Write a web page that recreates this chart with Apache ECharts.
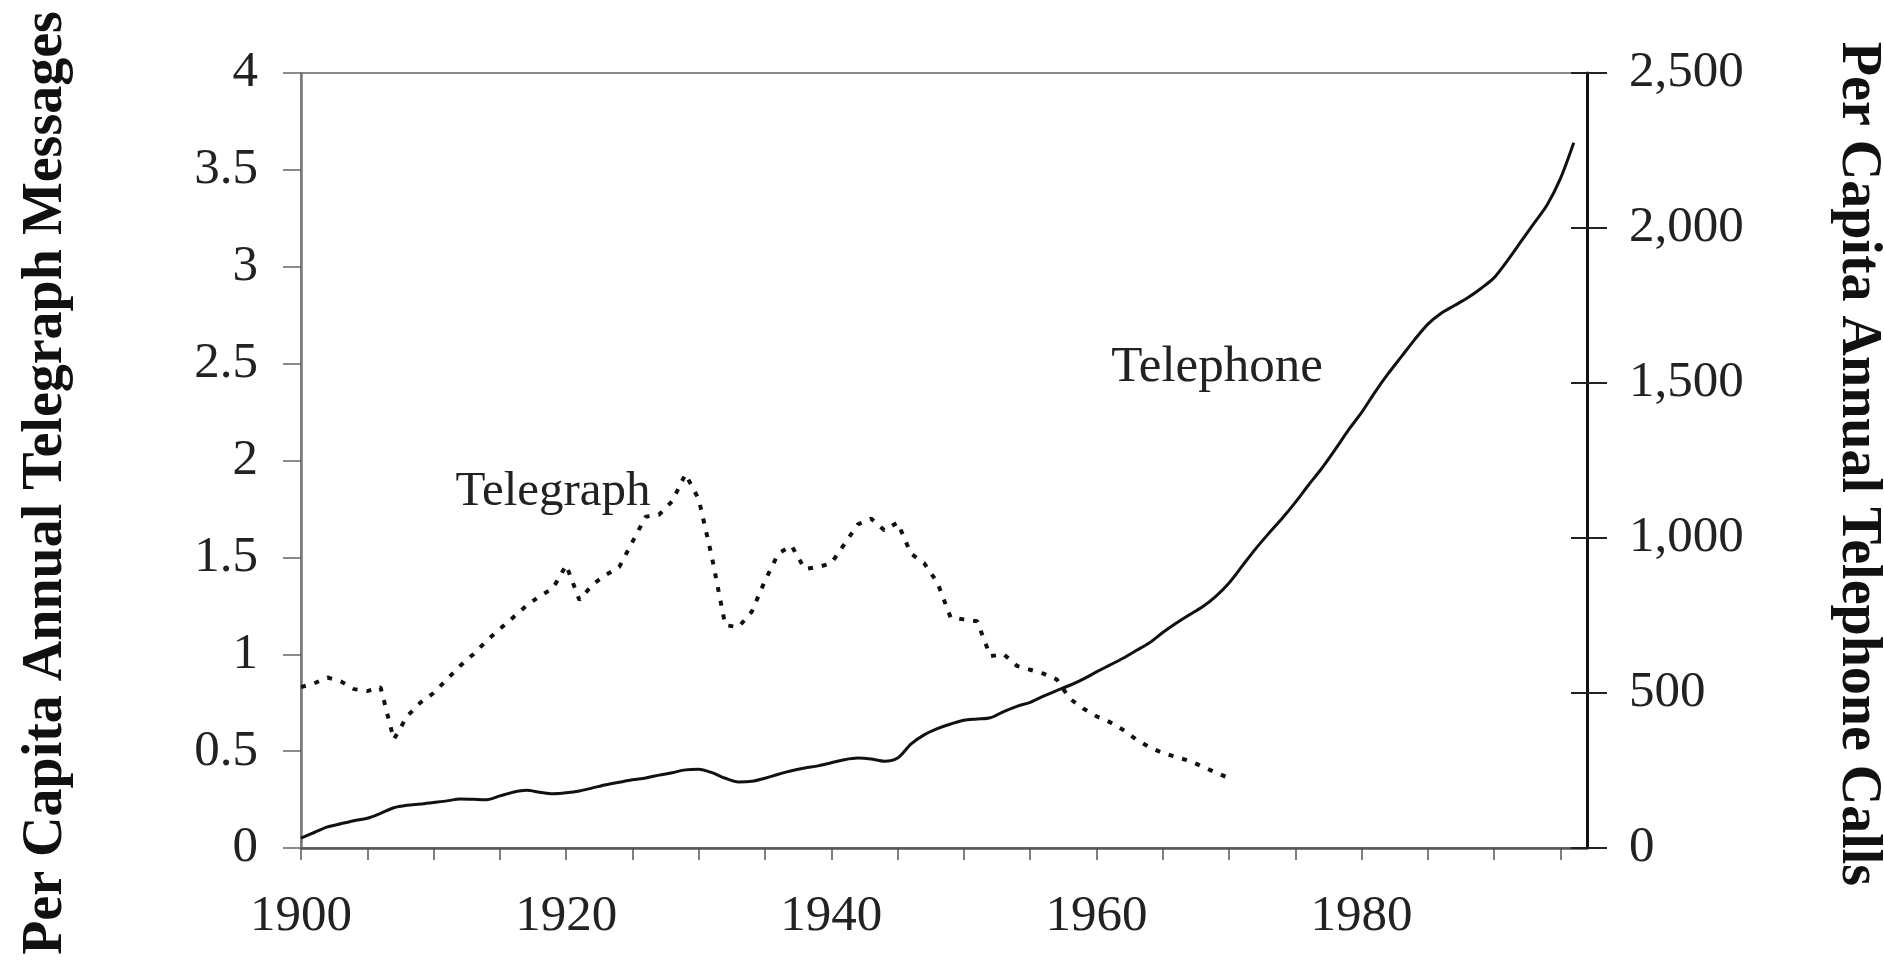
<!DOCTYPE html>
<html>
<head>
<meta charset="utf-8">
<script src="https://cdn.jsdelivr.net/npm/echarts@6/dist/echarts.min.js"></script>
<style>
  html, body { margin: 0; padding: 0; background: #fff; }
  #chart { width: 1884px; height: 962px; }
</style>
</head>
<body>
<div id="chart"></div>
<script>
// ---- Data ----
const telegraphYears = [1900,1901,1902,1903,1904,1905,1906,1907,1908,1909,1910,1911,1912,1913,1914,1915,1916,1917,1918,1919,1920,1921,1922,1923,1924,1925,1926,1927,1928,1929,1930,1931,1932,1933,1934,1935,1936,1937,1938,1939,1940,1941,1942,1943,1944,1945,1946,1947,1948,1949,1950,1951,1952,1953,1954,1955,1956,1957,1958,1959,1960,1961,1962,1963,1964,1965,1966,1967,1968,1969,1970];
const telegraphValues = [0.83,0.85,0.88,0.86,0.82,0.81,0.83,0.56,0.68,0.75,0.80,0.87,0.94,1.00,1.07,1.13,1.19,1.25,1.30,1.34,1.46,1.28,1.36,1.41,1.45,1.58,1.71,1.72,1.79,1.93,1.80,1.50,1.15,1.14,1.22,1.38,1.52,1.56,1.44,1.45,1.47,1.57,1.67,1.70,1.64,1.68,1.52,1.47,1.37,1.19,1.18,1.17,0.99,1.00,0.94,0.92,0.90,0.87,0.77,0.72,0.68,0.65,0.61,0.56,0.52,0.49,0.47,0.45,0.42,0.39,0.36];

const telephoneYears = [1900,1901,1902,1903,1904,1905,1906,1907,1908,1909,1910,1911,1912,1913,1914,1915,1916,1917,1918,1919,1920,1921,1922,1923,1924,1925,1926,1927,1928,1929,1930,1931,1932,1933,1934,1935,1936,1937,1938,1939,1940,1941,1942,1943,1944,1945,1946,1947,1948,1949,1950,1951,1952,1953,1954,1955,1956,1957,1958,1959,1960,1961,1962,1963,1964,1965,1966,1967,1968,1969,1970,1971,1972,1973,1974,1975,1976,1977,1978,1979,1980,1981,1982,1983,1984,1985,1986,1987,1988,1989,1990,1991,1992,1993,1994,1995,1996];
const telephoneValues = [32,50,68,78,88,96,112,130,138,142,147,152,158,157,156,168,180,186,180,175,178,184,194,204,212,220,226,235,243,252,254,243,225,213,215,225,238,249,258,265,275,285,290,287,280,290,335,365,385,400,412,416,420,440,457,470,490,508,525,545,568,590,612,637,662,695,725,752,778,812,855,910,965,1015,1063,1115,1171,1225,1285,1348,1405,1470,1530,1585,1640,1690,1725,1750,1775,1805,1840,1895,1955,2015,2075,2160,2275];

const xTickLabels = [1900, 1920, 1940, 1960, 1980];
const leftTicks = ['0','0.5','1','1.5','2','2.5','3','3.5','4'];
const rightTicks = ['0','500','1,000','1,500','2,000','2,500'];

const leftTitle = 'Per Capita Annual Telegraph Messages';
const rightTitle = 'Per Capita Annual Telephone Calls';
const telegraphLabel = 'Telegraph';
const telephoneLabel = 'Telephone';

// ---- Chart ----
const chart = echarts.init(document.getElementById('chart'), null, { renderer: 'canvas' });
const serif = '"Liberation Serif", "Times New Roman", serif';

const option = {
  animation: false,
  backgroundColor: '#ffffff',
  grid: {
    left: 301, right: 297, top: 73, bottom: 114,
    outerBoundsMode: 'none', containLabel: false,
    show: true, borderColor: '#8a8a8a', borderWidth: 2, backgroundColor: 'transparent'
  },
  xAxis: {
    type: 'value',
    min: 1900, max: 1997, interval: 5,
    axisLine: { show: true, lineStyle: { color: '#555', width: 2.5 } },
    axisTick: { show: true, length: 12, lineStyle: { color: '#555', width: 1.5 } },
    axisLabel: {
      margin: 43, fontFamily: serif, fontSize: 51, color: '#222',
      showMaxLabel: false,
      formatter: v => (xTickLabels.indexOf(v) >= 0 ? String(v) : '')
    },
    splitLine: { show: false }
  },
  yAxis: [
    {
      type: 'value', position: 'left', min: 0, max: 4, interval: 0.5,
      axisLine: { show: true, lineStyle: { color: '#777', width: 2.5 } },
      axisTick: { show: true, length: 18, lineStyle: { color: '#666', width: 1.5 } },
      axisLabel: {
        margin: 43, fontFamily: serif, fontSize: 51, color: '#222',
        formatter: (v) => leftTicks[Math.round(v / 0.5)]
      },
      splitLine: { show: false }
    },
    {
      type: 'value', position: 'right', min: 0, max: 2500, interval: 500,
      axisLine: { show: true, lineStyle: { color: '#111', width: 3 } },
      axisTick: { show: true, length: 20, lineStyle: { color: '#222', width: 2 } },
      axisLabel: {
        margin: 42, fontFamily: serif, fontSize: 51, color: '#222',
        formatter: (v) => rightTicks[Math.round(v / 500)]
      },
      splitLine: { show: false }
    },
    {
      type: 'value', position: 'right', min: 0, max: 2500, interval: 500,
      axisLine: { show: false },
      axisTick: { show: true, inside: true, length: 16, lineStyle: { color: '#222', width: 2 } },
      axisLabel: { show: false },
      splitLine: { show: false }
    }
  ],
  series: [
    {
      name: 'Telegraph', type: 'line', yAxisIndex: 0,
      data: telegraphYears.map((y, i) => [y, telegraphValues[i]]),
      showSymbol: false, smooth: false,
      lineStyle: { color: '#111', width: 4, type: [5, 9], cap: 'butt' }
    },
    {
      name: 'Telephone', type: 'line', yAxisIndex: 1,
      data: telephoneYears.map((y, i) => [y, telephoneValues[i]]),
      showSymbol: false, smooth: 0.3,
      lineStyle: { color: '#111', width: 3 }
    }
  ],
  graphic: [
    {
      type: 'text', x: 47, y: 483, rotation: Math.PI / 2,
      style: { text: leftTitle, font: 'bold 56px ' + serif, fill: '#111', align: 'center', verticalAlign: 'middle' }
    },
    {
      type: 'text', x: 1857, y: 464, rotation: -Math.PI / 2,
      style: { text: rightTitle, font: 'bold 56px ' + serif, fill: '#111', align: 'center', verticalAlign: 'middle' }
    },
    {
      type: 'text', x: 553, y: 492,
      style: { text: telegraphLabel, font: '49px ' + serif, fill: '#222', align: 'center', verticalAlign: 'middle' }
    },
    {
      type: 'text', x: 1217, y: 368,
      style: { text: telephoneLabel, font: '51px ' + serif, fill: '#222', align: 'center', verticalAlign: 'middle' }
    }
  ]
};
chart.setOption(option);
</script>
</body>
</html>
